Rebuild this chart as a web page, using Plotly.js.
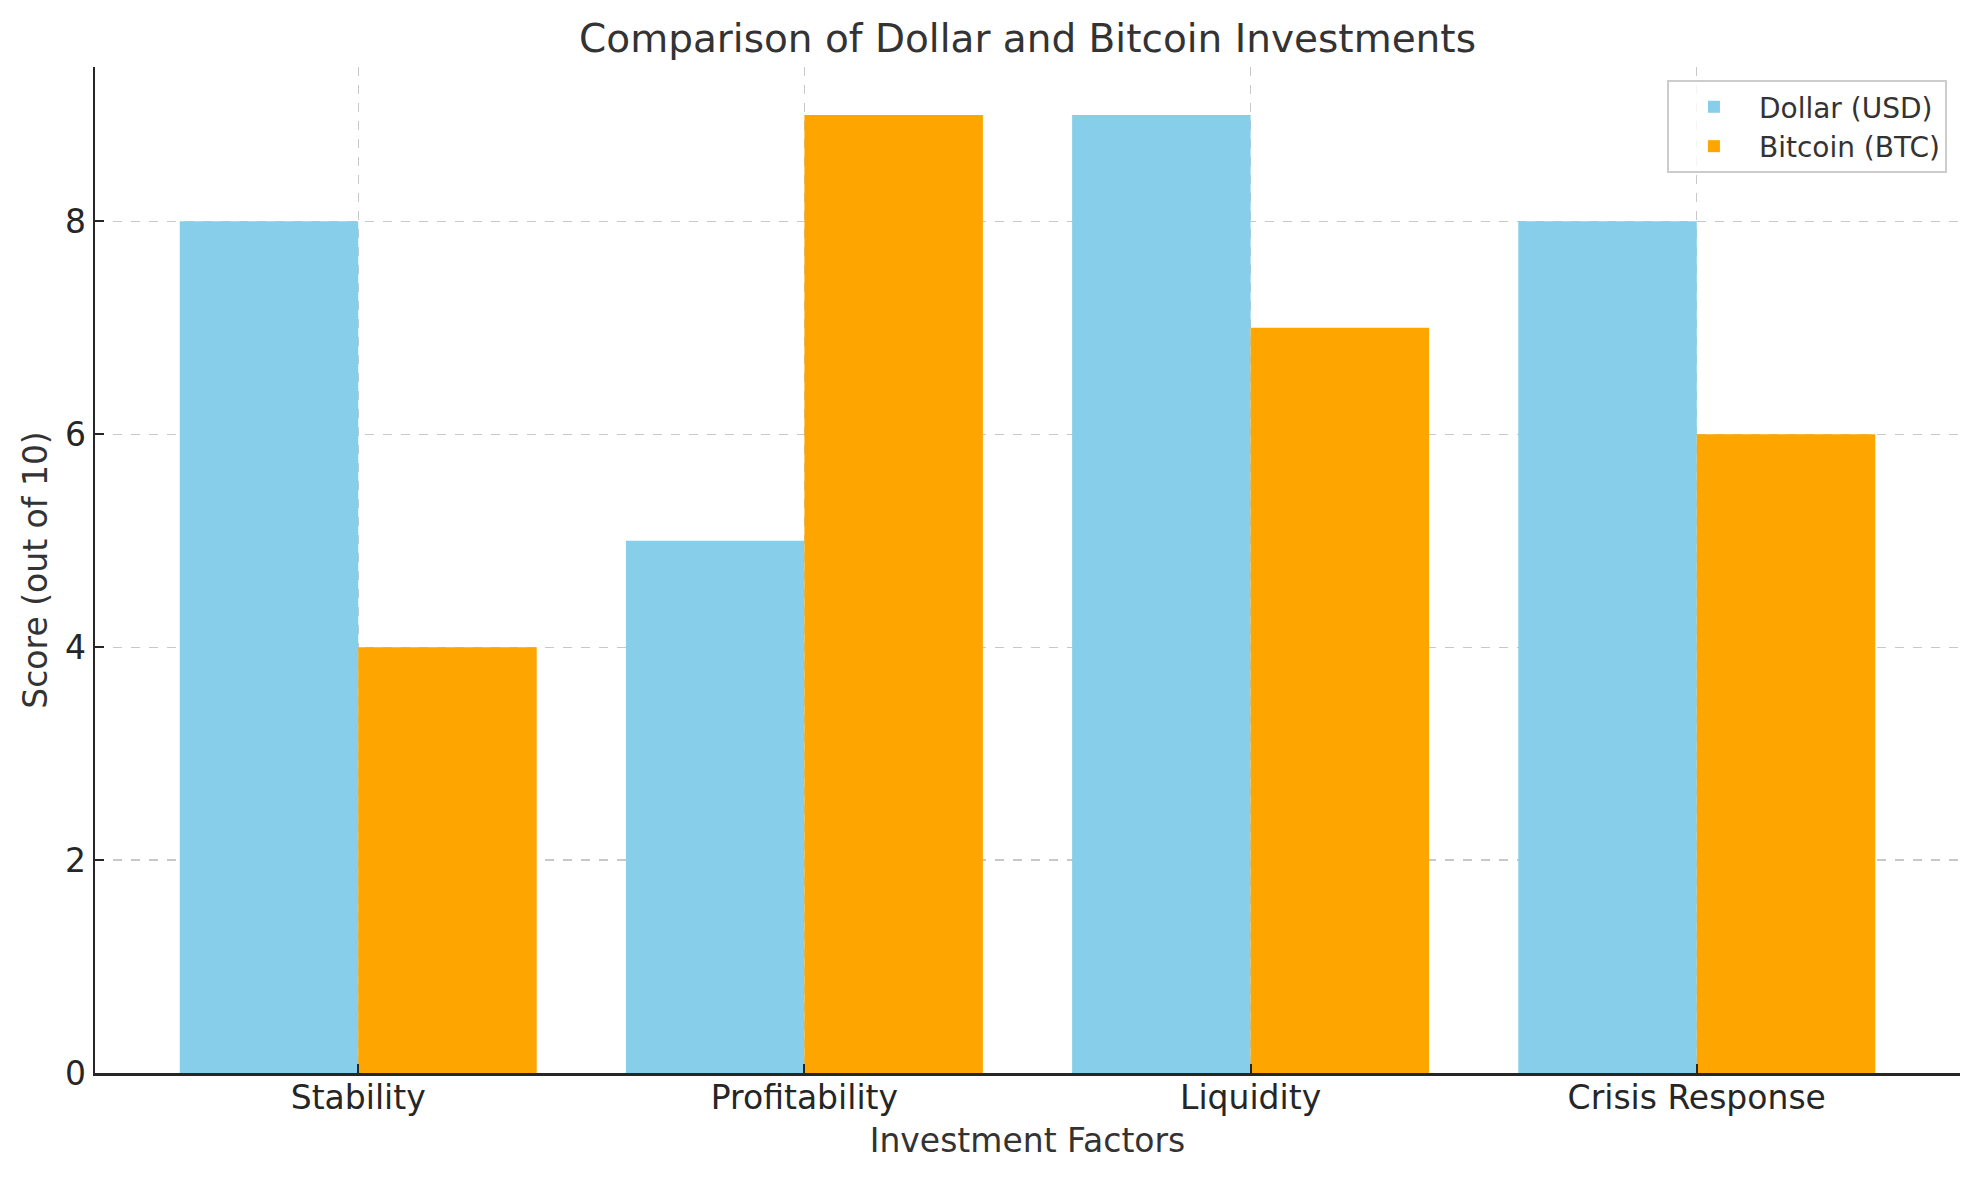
<!DOCTYPE html>
<html>
<head>
<meta charset="utf-8">
<script src="https://cdn.plot.ly/plotly-3.0.1.min.js"></script>
<style>
  html, body { margin: 0; padding: 0; background: #fff; }
  #plot { width: 1979px; height: 1180px; }
</style>
</head>
<body>
<div id="plot"></div>
<script>
var factors = ['Stability', 'Profitability', 'Liquidity', 'Crisis Response'];
var dollarScores = [8, 5, 9, 8];
var bitcoinScores = [4, 9, 7, 6];
var yTicks = [0, 2, 4, 6, 8];

var font = 'DejaVu Sans, sans-serif';

var data = [
  {
    x: factors,
    y: dollarScores,
    type: 'bar',
    name: 'Dollar (USD)',
    marker: { color: '#87CEEB', line: { width: 0 } },
    hoverinfo: 'x+y'
  },
  {
    x: factors,
    y: bitcoinScores,
    type: 'bar',
    name: 'Bitcoin (BTC)',
    marker: { color: '#FFA500', line: { width: 0 } },
    hoverinfo: 'x+y'
  }
];

var layout = {
  width: 1979,
  height: 1180,
  paper_bgcolor: '#fff',
  plot_bgcolor: '#fff',
  barmode: 'group',
  bargap: 0.2,
  bargroupgap: 0,
  showlegend: true,
  margin: { l: 95, r: 19, t: 67, b: 107, autoexpand: false },
  font: { family: font, size: 33, color: '#262626' },
  title: {
    text: 'Comparison of Dollar and Bitcoin Investments',
    font: { family: font, size: 39, color: '#333333' },
    x: 0.5,
    xref: 'paper',
    xanchor: 'center',
    y: 1 - 38 / 1180,
    yref: 'container',
    yanchor: 'middle'
  },
  xaxis: {
    type: 'category',
    range: [-0.59, 3.59],
    showline: true,
    linecolor: '#262626',
    linewidth: 2.5,
    showgrid: true,
    gridcolor: '#c8c8c8',
    gridwidth: 1.3,
    griddash: 'dash',
    ticks: 'inside',
    ticklen: 9,
    tickwidth: 2,
    tickcolor: '#262626',
    ticklabelstandoff: -6,
    tickfont: { family: font, size: 33, color: '#262626' },
    title: {
      text: 'Investment Factors',
      font: { family: font, size: 33, color: '#333333' },
      standoff: 13
    },
    fixedrange: true
  },
  yaxis: {
    range: [0, 9.45],
    tickvals: yTicks,
    ticktext: yTicks.map(String),
    showline: true,
    linecolor: '#262626',
    linewidth: 2.5,
    zeroline: false,
    showgrid: true,
    gridcolor: '#c8c8c8',
    gridwidth: 1.3,
    griddash: 'dash',
    ticks: 'inside',
    ticklen: 9,
    tickwidth: 2,
    tickcolor: '#262626',
    tickfont: { family: font, size: 33, color: '#262626' },
    title: {
      text: 'Score (out of 10)',
      font: { family: font, size: 33, color: '#333333' },
      standoff: 8
    },
    fixedrange: true
  },
  legend: {
    x: 0.993,
    y: 0.987,
    xanchor: 'right',
    yanchor: 'top',
    bgcolor: 'rgba(255,255,255,0.8)',
    bordercolor: '#cccccc',
    borderwidth: 2,
    font: { family: font, size: 28, color: '#333333' },
    itemwidth: 80,
    tracegroupgap: 4
  }
};

Plotly.newPlot('plot', data, layout, { displayModeBar: false, staticPlot: true });
</script>
</body>
</html>
